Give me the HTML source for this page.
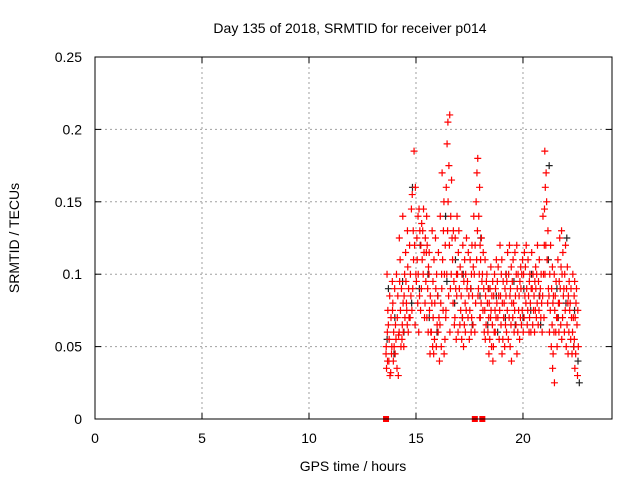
<!DOCTYPE html>
<html><head><meta charset="utf-8">
<style>
body{margin:0;background:#fff;}
svg{display:block;font-family:"Liberation Sans",sans-serif;}
</style></head>
<body>
<svg id="chart" width="640" height="480" viewBox="0 0 640 480" xmlns="http://www.w3.org/2000/svg">
<rect width="640" height="480" fill="#fff"/>
<text x="350" y="33" font-size="14" text-anchor="middle">Day 135 of 2018, SRMTID for receiver p014</text>
<g id="grid"></g>
<g id="ticks"></g>
<g id="points"></g>
<rect x="95" y="57" width="517" height="362" fill="none" stroke="#000" stroke-width="1"/>
<text transform="translate(19,238) rotate(-90)" font-size="14" text-anchor="middle">SRMTID / TECUs</text>
<text x="353" y="471" font-size="14" text-anchor="middle">GPS time / hours</text>
</svg>
<script>
const xTicks = [0,5,10,15,20];
const yTicks = [0,0.05,0.1,0.15,0.2,0.25];
const yTickLabels = ["0","0.05","0.1","0.15","0.2","0.25"];
const redTimes = [13.65,13.75,13.85,13.95,14.05,14.15,14.25,14.35,14.45,14.55,14.65,14.75,14.85,14.95,15.05,15.15,15.25,15.35,15.45,15.55,15.65,15.75,15.85,15.95,16.05,16.15,16.25,16.35,16.45,16.55,16.65,16.75,16.85,16.95,17.05,17.15,17.25,17.35,17.45,17.55,17.65,17.75,17.85,17.95,18.05,18.15,18.25,18.35,18.45,18.55,18.65,18.75,18.85,18.95,19.05,19.15,19.25,19.35,19.45,19.55,19.65,19.75,19.85,19.95,20.05,20.15,20.25,20.35,20.45,20.55,20.65,20.75,20.85,20.95,21.05,21.15,21.25,21.35,21.45,21.55,21.65,21.75,21.85,21.95,22.05,22.15,22.25,22.35,22.45,22.55];
const redValues = [
[.045,.06,.035,.075,.1,.05,.04],[.03,.055,.065,.085,.04],[.05,.07,.095,.045,.032],[.06,.08,.05,.04,.075],[.065,.09,.055,.045,.1],[.07,.058,.085,.035,.03],
[.06,.075,.095,.05,.11,.125],[.08,.065,.09,.14,.055],[.07,.085,.06,.1,.05],[.075,.095,.065,.08,.115],[.09,.105,.07,.06,.13],[.1,.12,.085,.07,.145],
[.155,.11,.09,.075,.13],[.185,.16,.12,.1,.065],[.14,.11,.095,.08,.125],[.13,.145,.1,.085,.06],[.135,.12,.11,.09,.075],[.145,.13,.115,.1,.07],
[.125,.14,.095,.08,.115],[.12,.105,.09,.07,.06],[.1,.085,.075,.06,.045,.115],[.095,.13,.06,.05,.08],[.08,.11,.07,.055,.045],[.1,.09,.065,.05,.125],
[.115,.085,.07,.06,.04],[.14,.1,.08,.065,.05],[.17,.13,.11,.09,.075],[.15,.12,.1,.07,.055,.045],[.205,.19,.16,.13,.1,.075],[.21,.175,.15,.12,.085,.06],
[.165,.14,.125,.1,.09],[.13,.11,.095,.08,.065],[.125,.1,.09,.07,.055],[.14,.115,.1,.085,.06],[.13,.105,.09,.075,.065],[.12,.1,.085,.07,.055],
[.11,.095,.08,.065,.05],[.125,.1,.09,.075,.06],[.115,.095,.085,.07,.055],[.11,.1,.09,.075,.06],[.12,.105,.085,.07,.065],[.14,.12,.1,.08,.06],
[.18,.17,.15,.13,.11,.085],[.16,.14,.12,.1,.09,.07],[.125,.11,.095,.08,.07],[.115,.1,.09,.075,.06],[.11,.095,.085,.075,.065,.055],[.1,.09,.08,.07,.06],
[.105,.09,.08,.07,.055,.045],[.095,.085,.075,.065,.05,.04],[.1,.085,.075,.06,.05],[.11,.09,.08,.07,.06],[.105,.095,.085,.07,.055],[.12,.1,.085,.075,.065],
[.11,.095,.08,.07,.055,.045],[.1,.09,.08,.065,.05],[.115,.095,.085,.075,.06],[.12,.1,.085,.07,.055],[.105,.09,.08,.065,.05,.04],[.11,.095,.08,.07,.06],
[.115,.1,.085,.075,.065],[.12,.1,.09,.075,.06,.045],[.105,.095,.085,.07,.055],[.11,.1,.09,.075,.065],[.115,.1,.085,.07,.06],[.12,.105,.09,.08,.065],
[.11,.095,.085,.075,.06],[.1,.09,.08,.07,.06],[.115,.1,.09,.075,.065],[.105,.095,.085,.075,.06],[.12,.1,.09,.08,.07],[.11,.095,.085,.075,.065],
[.1,.09,.08,.07,.06],[.14,.12,.1,.085,.07],[.185,.17,.16,.145,.12,.1],[.15,.13,.11,.09,.08],[.12,.1,.085,.075,.06],[.105,.09,.08,.065,.05,.035],
[.1,.085,.075,.06,.045,.025],[.095,.085,.07,.06,.05],[.11,.095,.08,.07,.06],[.125,.105,.09,.08,.065],[.13,.115,.1,.085,.07,.055],[.12,.1,.09,.075,.06],
[.105,.09,.08,.065,.05],[.095,.085,.075,.06,.045],[.09,.08,.07,.055,.045],[.1,.085,.07,.06,.05],[.095,.08,.07,.055,.045,.035],[.09,.075,.065,.05,.03]];
const blackTimes = [13.7,14.0,14.4,14.8,15.2,15.6,16.0,16.4,16.8,17.2,17.6,18.0,18.4,18.8,19.2,19.6,20.0,20.4,20.8,21.2,21.6,22.0,22.4,22.6];
const blackValues = [[.055,.09],[.07,.045],[.095,.06],[.16,.08],[.12,.09],[.1,.07],[.085,.06],[.14,.095],[.11,.08],[.1,.07],[.09,.065],[.125,.085],[.09,.065],[.085,.06],[.1,.07],[.095,.065],[.09,.07],[.1,.075],[.085,.065],[.175,.11],[.09,.07],[.125,.08],[.075,.05],[.04,.025]];
const markerTimes = [13.6,17.75,18.1];

const X0=95,X1=612,Y0=419,Y1=57,XMAX=24.16;
const xs=t=>X0+(t/XMAX)*(X1-X0);
const ys=v=>Y0-(v/0.25)*(Y0-Y1);
const NS="http://www.w3.org/2000/svg";
function mk(tag,attrs,parent){const e=document.createElementNS(NS,tag);for(const k in attrs)e.setAttribute(k,attrs[k]);parent.appendChild(e);return e;}
const grid=document.getElementById('grid'),ticks=document.getElementById('ticks'),pts=document.getElementById('points');
xTicks.forEach(t=>{
  const x=xs(t);
  if(t>0){const g=mk('line',{x1:x,x2:x,y1:Y1,y2:Y0,stroke:'#a0a0a0','stroke-dasharray':'2,3'},grid);
  
  }
  mk('line',{x1:x,x2:x,y1:Y0,y2:Y0-6,stroke:'#000'},ticks);
  mk('line',{x1:x,x2:x,y1:Y1,y2:Y1+6,stroke:'#000'},ticks);
  const l=mk('text',{x:x,y:Y0+24,'font-size':'14','text-anchor':'middle'},ticks);l.textContent=t;
  
  
});
yTicks.forEach((v,i)=>{
  const y=ys(v);
  if(v>0&&v<0.25){const g=mk('line',{x1:X0,x2:X1,y1:y,y2:y,stroke:'#a0a0a0','stroke-dasharray':'2,3'},grid);
  
  }
  mk('line',{x1:X0,x2:X0+6,y1:y,y2:y,stroke:'#000'},ticks);
  mk('line',{x1:X1,x2:X1-6,y1:y,y2:y,stroke:'#000'},ticks);
  const l=mk('text',{x:X0-13,y:y+5,'font-size':'14','text-anchor':'end'},ticks);l.textContent=yTickLabels[i];
  
  
});
function plus(x,y,c){
  return mk('path',{d:`M${x-3.5},${y}H${x+3.5}M${x},${y-3.5}V${y+3.5}`,stroke:c,'stroke-width':'1.2',fill:'none'},pts);
}
const spread=j=>((j*0.618)%1)-0.5;
blackTimes.forEach((t,i)=>blackValues[i].forEach((v,j)=>{
  const p=plus(xs(t+spread(j+i)*0.1),ys(v),'#222');
  
  
}));
redTimes.forEach((t,i)=>redValues[i].forEach((v,j)=>{
  const p=plus(xs(t+spread(j+i*3)*0.1),ys(v),'#ff0000');
  
  
}));
markerTimes.forEach(t=>{
  const r=mk('rect',{x:xs(t)-3,y:Y0-3,width:6,height:6,fill:'#ff0000'},pts);
  
  
});
</script>
</body></html>
